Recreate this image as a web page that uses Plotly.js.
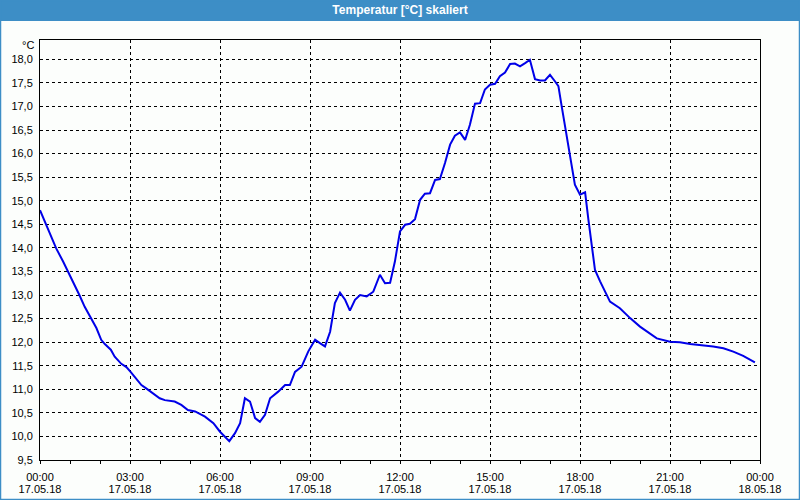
<!DOCTYPE html>
<html>
<head>
<meta charset="utf-8">
<script src="https://cdn.plot.ly/plotly-3.0.1.min.js"></script>
<style>
html,body{margin:0;padding:0;background:#fcfefc;}
#chart{width:800px;height:500px;}
</style>
</head>
<body>
<div id="chart"></div>
<script>
// Time in hours since 17.05.18 00:00
const hours = [0.00,0.18,0.38,0.54,0.77,0.99,1.16,1.32,1.49,1.71,1.88,2.04,2.16,2.36,2.49,2.71,2.88,3.02,3.21,3.38,3.54,3.77,3.99,4.16,4.49,4.71,4.93,
  5.17,5.50,5.78,6.00,6.31,6.50,6.67,6.83,7.00,7.17,7.33,7.50,7.67,7.94,8.17,8.33,8.50,8.72,8.94,9.17,9.33,9.50,9.67,9.83,10.00,10.17,10.33,10.50,10.67,10.89,11.11,11.33,11.50,11.67,11.83,
  12.00,12.17,12.33,12.50,12.67,12.83,13.00,13.17,13.33,13.50,13.67,13.83,14.00,14.17,14.33,14.50,14.67,14.83,15.00,15.17,15.33,15.50,15.67,15.83,16.00,16.17,16.33,16.50,16.67,16.83,17.00,17.17,17.28,17.39,17.56,17.72,17.83,18.00,18.17,18.28,18.39,18.50,18.67,18.83,19.00,19.33,19.67,20.00,20.33,20.56,21.00,21.33,21.67,22.00,22.44,22.78,23.11,23.44,23.83];
const temperature = [14.80,14.52,14.24,13.99,13.71,13.43,13.22,12.99,12.75,12.51,12.30,12.05,11.96,11.84,11.69,11.54,11.47,11.37,11.23,11.09,11.02,10.92,10.81,10.77,10.74,10.67,10.56,
  10.53,10.42,10.28,10.10,9.90,10.07,10.28,10.81,10.74,10.39,10.31,10.46,10.81,10.95,11.09,11.09,11.37,11.48,11.80,12.05,11.98,11.91,12.22,12.83,13.05,12.90,12.67,12.90,13.00,12.97,13.07,13.43,13.25,13.26,13.71,
  14.35,14.49,14.51,14.61,15.02,15.15,15.16,15.44,15.46,15.80,16.19,16.38,16.45,16.29,16.61,17.06,17.07,17.36,17.46,17.48,17.64,17.72,17.90,17.91,17.85,17.92,17.99,17.58,17.55,17.55,17.67,17.53,17.43,17.00,16.36,15.73,15.34,15.13,15.18,14.60,14.03,13.53,13.29,13.07,12.86,12.72,12.51,12.33,12.18,12.08,12.01,12.00,11.96,11.94,11.91,11.87,11.80,11.71,11.57];

const xTickVals = [0,3,6,9,12,15,18,21,24];
const xTimeLabels = ['00:00','03:00','06:00','09:00','12:00','15:00','18:00','21:00','00:00'];
const xDateLabels = ['17.05.18','17.05.18','17.05.18','17.05.18','17.05.18','17.05.18','17.05.18','17.05.18','18.05.18'];
const yTickVals = [9.5,10,10.5,11,11.5,12,12.5,13,13.5,14,14.5,15,15.5,16,16.5,17,17.5,18];
const yTickLabels = ['9,5','10,0','10,5','11,0','11,5','12,0','12,5','13,0','13,5','14,0','14,5','15,0','15,5','16,0','16,5','17,0','17,5','18,0'];
const titleText = 'Temperatur [°C] skaliert';
const unitText = '°C';

const L=40, R=40, T=40, B=40, W=800, H=500;
const pw = W-L-R, ph = H-T-B;
const px = v => (v-L)/pw;          // pixel x -> paper
const py = v => (H-B-v)/ph;        // pixel y -> paper

const font = {family:'Liberation Sans, Arial, sans-serif', size:11, color:'#000'};

const trace = {
  x: hours, y: temperature, type:'scatter', mode:'lines',
  line:{color:'#0000e8', width:2}, hoverinfo:'skip', showlegend:false
};

const layout = {
  width:W, height:H,
  margin:{l:L, r:R, t:T, b:B, pad:0},
  paper_bgcolor:'#fcfefc', plot_bgcolor:'#fcfefc',
  font: font,
  showlegend:false,
  title:{text:'<b>'+titleText+'</b>', font:{family:'Liberation Sans, Arial, sans-serif', size:12, color:'#ffffff'}, x:0.5, xanchor:'center', y:1-10/H, yanchor:'middle', yref:'container'},
  xaxis:{
    range:[0,24], tickvals:xTickVals, ticktext:xTimeLabels,
    showgrid:true, gridcolor:'#000', gridwidth:1, griddash:'3px,3px',
    showline:true, linecolor:'#000', linewidth:1, mirror:true,
    ticks:'outside', ticklen:3, tickcolor:'#000', ticklabelstandoff:4,
    minor:{dtick:1, tick0:0, ticks:'outside', ticklen:3, tickcolor:'#000', showgrid:false},
    zeroline:false, fixedrange:true, tickfont:font
  },
  xaxis2:{
    overlaying:'x', anchor:'y', side:'bottom', matches:'x',
    range:[0,24], tickvals:xTickVals, ticktext:xDateLabels,
    showgrid:false, showline:false, ticks:'', ticklabelstandoff:21,
    zeroline:false, fixedrange:true, tickfont:font
  },
  yaxis:{
    range:[9.5,18.41], tickvals:yTickVals, ticktext:yTickLabels,
    showgrid:true, gridcolor:'#000', gridwidth:1, griddash:'3px,3px',
    showline:true, linecolor:'#000', linewidth:1, mirror:true,
    ticks:'', ticklabelstandoff:4, zeroline:false, fixedrange:true, tickfont:font
  },
  shapes:[
    {type:'rect', xref:'paper', yref:'paper', x0:px(0), x1:px(W), y0:py(21), y1:py(0), fillcolor:'#3d8ec6', line:{width:0}, layer:'below'},
    {type:'rect', xref:'paper', yref:'paper', x0:px(0.5), x1:px(W-0.5), y0:py(H-0.5), y1:py(0.5), fillcolor:'rgba(0,0,0,0)', line:{color:'#3d8ec6', width:1.5}, layer:'above'}
  ],
  annotations:[
    {text:unitText, xref:'paper', yref:'paper', x:px(36), y:py(45), xanchor:'right', yanchor:'middle', showarrow:false, font:font}
  ]
};

const trace2 = {x:[0,24], y:[null,null], xaxis:'x2', yaxis:'y', type:'scatter', mode:'lines', hoverinfo:'skip', showlegend:false};

Plotly.newPlot('chart', [trace, trace2], layout, {displayModeBar:false, staticPlot:true});
</script>
</body>
</html>
